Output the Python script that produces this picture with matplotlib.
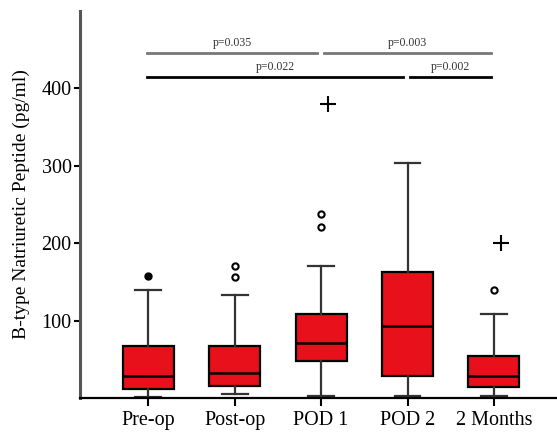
import matplotlib.pyplot as plt

# group labels and box statistics (pg/ml)
groups = ['Pre-op', 'Post-op', 'POD 1', 'POD 2', '2 Months']
whislo = [1, 5, 2, 2, 2]
q1 = [12, 15, 48, 28, 14]
med = [28, 32, 71, 93, 28]
q3 = [67, 67, 108, 163, 54]
whishi = [140, 133, 171, 304, 108]

# outliers: open circles, filled dot, and extreme (+) values
open_out = [[], [156, 170], [221, 238], [], [139]]
filled_out = [[158], [], [], [], []]
plus_out = [[], [], [380], [], [200]]

# significance brackets: (from group, to group, p text, level)
sig = [(0, 2, 'p=0.035', 445), (2, 4, 'p=0.003', 445),
       (0, 3, 'p=0.022', 414), (3, 4, 'p=0.002', 414)]

plt.rcParams['font.family'] = 'Liberation Serif'

fig = plt.figure(figsize=(5.57, 4.38), dpi=100)
ax = fig.add_axes([0.1436, 0.0913, 0.8564, 0.884])

pos = list(range(1, len(groups) + 1))
stats = []
for i in range(len(groups)):
    stats.append({'whislo': whislo[i], 'q1': q1[i], 'med': med[i],
                  'q3': q3[i], 'whishi': whishi[i], 'fliers': []})

ax.bxp(stats, positions=pos, widths=0.59, capwidths=0.3, patch_artist=True,
       showfliers=False,
       boxprops=dict(facecolor='#e8101a', edgecolor='black', linewidth=1.6),
       medianprops=dict(color='black', linewidth=1.8),
       whiskerprops=dict(color='#333333', linewidth=1.6),
       capprops=dict(color='#333333', linewidth=1.6))

for i in range(len(groups)):
    if open_out[i]:
        ax.plot([pos[i]] * len(open_out[i]), open_out[i], 'o', ms=4.5,
                mfc='white', mec='black', mew=1.5, clip_on=False)
    if filled_out[i]:
        ax.plot([pos[i]] * len(filled_out[i]), filled_out[i], 'o', ms=5,
                color='black', clip_on=False)
    if plus_out[i]:
        ax.plot([pos[i] + 0.08] * len(plus_out[i]), plus_out[i], '+', ms=11,
                mew=1.5, color='black', clip_on=False)

for a, b, txt, lev in sig:
    x0 = pos[a] + 0.03 if a else pos[a] - 0.01
    x1 = pos[b] - 0.03 if b == 4 else pos[b] - 0.05
    col = '#777777' if lev > 430 else 'black'
    ax.plot([x0, x1], [lev, lev], color=col, lw=2, clip_on=False)
    ax.text((x0 + x1) / 2, lev + 6, txt, ha='center', va='bottom',
            fontsize=8.5, color='#333333')

ax.set_xlim(0.21, 5.73)
ax.set_ylim(0, 500)
ax.set_yticks([100, 200, 300, 400])
ax.set_xticks(pos)
ax.set_xticklabels(groups)
ax.tick_params(axis='both', labelsize=14.5, colors='black')
ax.tick_params(axis='y', length=4, width=1.5, pad=2)
ax.tick_params(axis='x', length=6, width=1.5, pad=3)
ax.set_ylabel('B-type Natriuretic Peptide (pg/ml)', fontsize=14, labelpad=8)

ax.spines['top'].set_visible(False)
ax.spines['right'].set_visible(False)
ax.spines['left'].set_color('#555555')
ax.spines['left'].set_linewidth(2.2)
ax.spines['bottom'].set_linewidth(1.6)

fig.savefig('out.png', dpi=100)
